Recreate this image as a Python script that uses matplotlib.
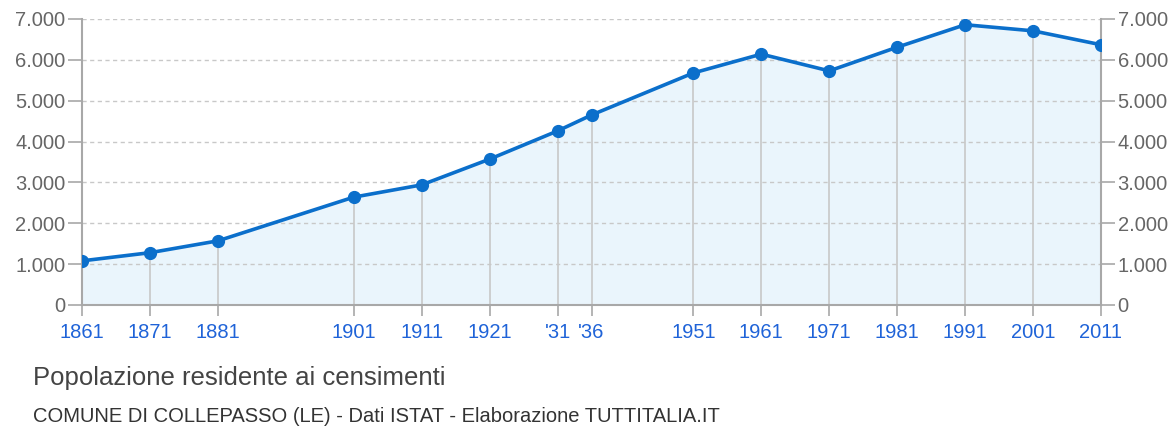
import matplotlib.pyplot as plt
from matplotlib.ticker import FuncFormatter

plt.rcParams['font.family'] = ['Liberation Sans', 'DejaVu Sans']

years = [1861, 1871, 1881, 1901, 1911, 1921, 1931, 1936, 1951, 1961, 1971, 1981, 1991, 2001, 2011]
year_labels = ['1861', '1871', '1881', '1901', '1911', '1921', "'31", "'36",
               '1951', '1961', '1971', '1981', '1991', '2001', '2011']
population = [1080, 1280, 1570, 2640, 2940, 3570, 4260, 4650, 5680, 6140, 5730, 6310, 6860, 6710, 6370]
y_ticks = [0, 1000, 2000, 3000, 4000, 5000, 6000, 7000]

LINE = "#0b6fcb"
FILL = "#eaf5fc"
GRID = "#c8c8c8"
AXIS = "#a8a8a8"
TEXT = "#666666"
BLUE = "#1f63d8"

fig = plt.figure(figsize=(11.68, 4.32), dpi=100)
ax = fig.add_axes([82 / 1168, 1 - 305 / 432, (1101 - 82) / 1168, (305 - 19) / 432])

ax.fill_between(years, population, 0, color=FILL, zorder=1)
ax.vlines(years, 0, population, color=GRID, lw=1.2, zorder=2)
for v in y_ticks[1:]:
    ax.axhline(v, color=GRID, lw=1, ls=(0, (3, 2.5)), zorder=1.5)
ax.plot(years, population, color=LINE, lw=2.6, marker='o', ms=8.5, zorder=4)

ax.set_xlim(years[0], years[-1])
ax.set_ylim(0, 7000)

ax.spines['top'].set_visible(False)
for s in ['left', 'right', 'bottom']:
    ax.spines[s].set_color(AXIS)
    ax.spines[s].set_linewidth(1.5)

fmt = FuncFormatter(lambda v, p: f"{int(v):,}".replace(',', '.'))
ax.set_yticks(y_ticks)
ax.yaxis.set_major_formatter(fmt)
ax.tick_params(axis='y', which='both', left=True, right=True, labelleft=True, labelright=True,
               length=10, width=1.2, color=AXIS, labelcolor=TEXT, labelsize=14.5, pad=2)

ax.set_xticks(years)
ax.set_xticklabels(year_labels)
ax.tick_params(axis='x', length=8, width=1.2, color=AXIS, labelcolor=BLUE, labelsize=14.5, pad=5)

fig.text(33 / 1168, 1 - 378 / 432, 'Popolazione residente ai censimenti',
         fontsize=18.5, color='#444444', va='center', ha='left')
fig.text(33 / 1168, 1 - 416 / 432, 'COMUNE DI COLLEPASSO (LE) - Dati ISTAT - Elaborazione TUTTITALIA.IT',
         fontsize=14.5, color='#333333', va='center', ha='left')

fig.savefig('out.png', dpi=100, facecolor='white')
